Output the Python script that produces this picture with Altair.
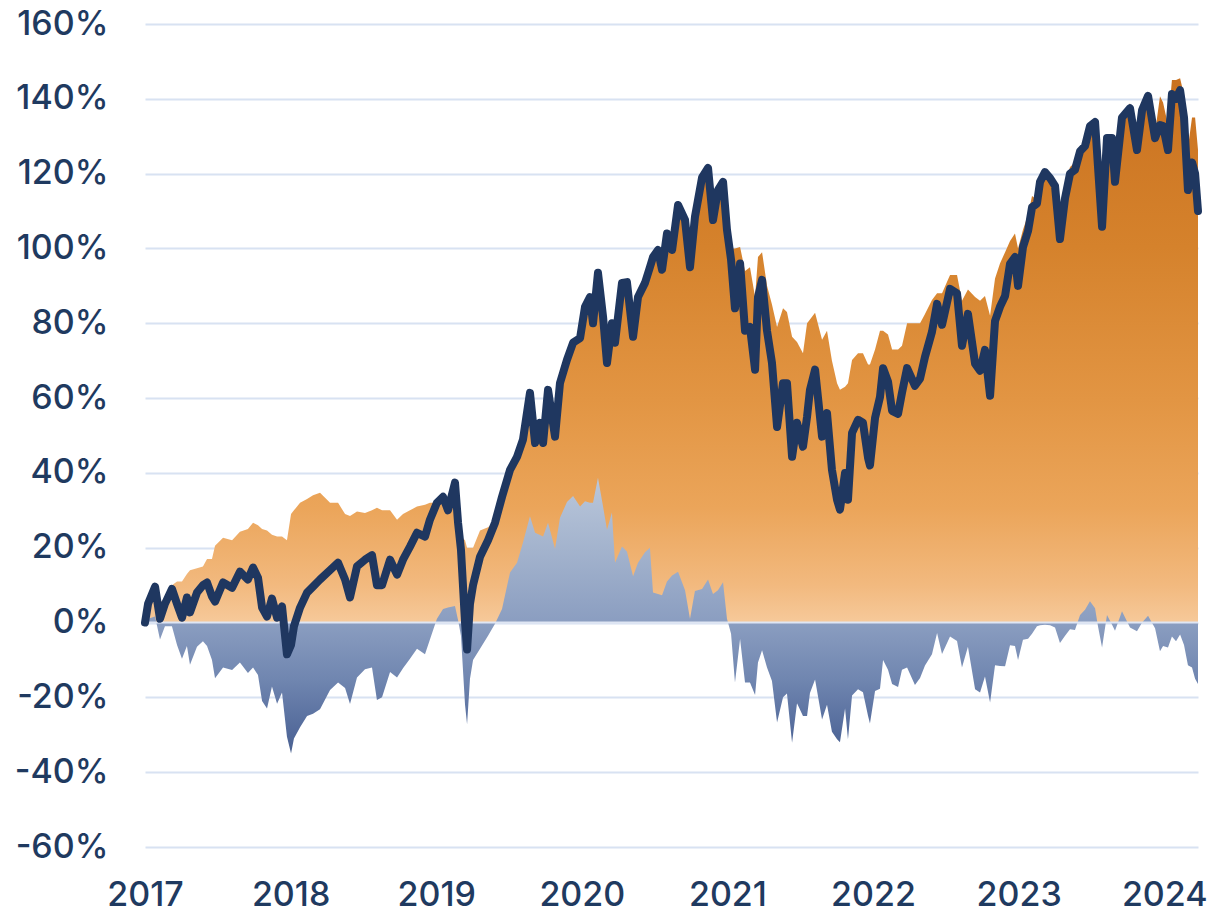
import altair as alt
import pandas as pd

# decimal-year positions of the sampled points
years = [
    2017.000, 2017.021, 2017.069, 2017.103, 2017.137, 2017.185, 2017.220, 2017.254, 2017.288, 2017.309,
    2017.357, 2017.398, 2017.426, 2017.460, 2017.481, 2017.536, 2017.598, 2017.652, 2017.707, 2017.742,
    2017.776, 2017.804, 2017.838, 2017.872, 2017.907, 2017.941, 2017.975,
    2018.003, 2018.023, 2018.065, 2018.113, 2018.154, 2018.202, 2018.271, 2018.326, 2018.374, 2018.408,
    2018.456, 2018.511, 2018.559, 2018.593, 2018.628, 2018.683, 2018.731, 2018.772, 2018.820, 2018.868,
    2018.923, 2018.957,
    2019.005, 2019.047, 2019.081, 2019.129, 2019.150, 2019.170, 2019.198, 2019.212, 2019.232, 2019.253,
    2019.301, 2019.356, 2019.404, 2019.452, 2019.507, 2019.555, 2019.596, 2019.644, 2019.679, 2019.713,
    2019.734, 2019.768, 2019.816, 2019.850, 2019.898, 2019.940, 2019.988,
    2020.022, 2020.056, 2020.077, 2020.111, 2020.146, 2020.173, 2020.207, 2020.228, 2020.276, 2020.310,
    2020.352, 2020.386, 2020.434, 2020.468, 2020.489, 2020.523, 2020.551, 2020.585, 2020.620, 2020.661,
    2020.709, 2020.743, 2020.777, 2020.826, 2020.867, 2020.901, 2020.935, 2020.970, 2020.997,
    2021.025, 2021.052, 2021.087, 2021.121, 2021.155, 2021.190, 2021.210, 2021.238, 2021.272, 2021.306,
    2021.341, 2021.382, 2021.409, 2021.444, 2021.478, 2021.519, 2021.547, 2021.567, 2021.602, 2021.650,
    2021.684, 2021.718, 2021.753, 2021.773, 2021.808, 2021.828, 2021.856, 2021.897, 2021.931, 2021.966,
    2021.979,
    2022.014, 2022.048, 2022.069, 2022.103, 2022.131, 2022.172, 2022.199, 2022.234, 2022.288, 2022.323,
    2022.357, 2022.405, 2022.440, 2022.474, 2022.529, 2022.577, 2022.611, 2022.652, 2022.701, 2022.735,
    2022.769, 2022.804, 2022.838, 2022.872, 2022.907, 2022.941, 2022.975, 2022.996,
    2023.030, 2023.065, 2023.092, 2023.126, 2023.147, 2023.181, 2023.216, 2023.250, 2023.284, 2023.319,
    2023.353, 2023.387, 2023.422, 2023.456, 2023.490, 2023.525, 2023.545, 2023.573, 2023.607, 2023.641,
    2023.662, 2023.710, 2023.765, 2023.813, 2023.848, 2023.889, 2023.937, 2023.971, 2023.992,
    2024.026, 2024.053, 2024.081, 2024.109, 2024.136, 2024.163, 2024.191, 2024.212, 2024.232,
]

# cumulative return of the fund (navy line), %
fund = [
    0, 5, 9.6, 1, 5, 9, 5, 1.3, 6.7, 2.7, 8, 10, 10.7, 7, 5.6, 10.7, 9.3, 13.6, 11.5, 14.7,
    12, 4, 1.6, 6.4, 1.3, 4.3, -8.5,
    -6, -1, 4, 8, 9.6, 11.5, 14, 16, 11.5, 6.7, 15, 16.8, 18, 10, 10, 16.8, 12.8, 16.8, 20.3, 24,
    23, 27.5,
    32, 33.6, 30, 37.4, 26.7, 19.5, 0, -7.2, 5, 10, 17.6, 22, 26.7, 33.6, 40.8, 44.3, 48.9, 61.4,
    48, 53.4, 48, 62.2, 49.7, 64, 70.2, 74.8, 76,
    84.4, 87, 80, 93.5, 81.7, 69.4, 80, 74.8, 90.8, 91, 76.4, 87, 90.8, 95, 97.7, 99.6, 94.3, 104,
    99.6, 111.6, 107.6, 95, 108.4, 119, 121.5, 107.6, 115.6, 117.8, 105,
    97, 84, 96, 78, 79, 67.6, 87, 91.6, 78, 69.4, 52.3, 64, 64, 44.3, 53.4, 47, 55, 62.2, 67.6,
    49.7, 56, 40.8, 32.8, 30.2, 40, 32.8, 50.7, 54.2, 53.4, 44, 42,
    54.7, 60.3, 68, 64.4, 56.6, 55.8, 61.4, 68, 63.3, 65.2, 71, 77.7, 85.2, 79.6, 89.2, 88, 74,
    82.5, 69.2, 67.3, 72.9, 60.6, 80.6, 84.4, 87.3, 95.9, 97.7, 90,
    100.4, 104.7, 111, 112, 117.8, 120.4, 118.8, 116.7, 102.5, 113.5, 120, 121, 126, 127.4, 132.7,
    133.8, 122, 105.8, 129.5, 129.5, 117.8, 135, 137.5, 126.3, 137, 140.8, 129.5, 133, 132.7,
    126.3, 141.3, 140, 142.3, 135, 115.6, 123, 120, 110,
]

# cumulative return of the benchmark, %
bench = [
    0, 4, 8, 5.5, 6, 10, 11, 11, 13, 14, 14.5, 15, 17, 17, 20.5, 22.7, 22, 24.3, 25, 26.7,
    26, 25, 24.6, 23.5, 23, 23, 22,
    29, 30, 32, 33, 34, 34.7, 32, 32, 29, 28.5, 29.7, 29.3, 30, 30.7, 30, 30, 27.5, 29, 30, 31,
    31.5, 32,
    31, 30, 26, 33, 26, 23, 22, 20, 20, 20, 24.6, 25.5, 27, 30, 27.4, 28.3, 27.5, 33,
    24, 30, 25, 35.5, 30, 36, 38, 41, 45,
    52, 55, 48, 54.8, 50.7, 44.6, 50.6, 58.8, 70.5, 72, 64, 71, 72, 75, 89.7, 92, 87, 93,
    87, 98, 99, 94, 100, 110, 110, 100, 107, 107, 104,
    100, 100, 100.4, 94, 95, 87, 97.7, 99, 90, 85, 79, 84, 83, 76.4, 75, 72, 80, 81, 82.8,
    75.6, 78, 70, 64, 62.2, 63, 64, 70.2, 72, 72, 69, 69,
    73, 78, 78, 77, 73, 73, 74, 80, 80, 80, 82.5, 86.2, 88, 88, 92.9, 92.9, 86,
    89, 87, 86, 87.3, 82, 92, 96, 99, 102, 104, 100,
    105, 109, 114, 113, 118.5, 121, 119.5, 118, 108, 117, 121.8, 123, 124, 124, 127,
    130, 123, 112.5, 127.5, 130, 120, 132, 138.8, 128.6, 137, 139, 131, 140.7, 139,
    133, 145, 145, 145.5, 141, 127, 135, 135, 126.4,
]

year_ticks = [2017, 2018, 2019, 2020, 2021, 2022, 2023, 2024]
pct_ticks = [-60, -40, -20, 0, 20, 40, 60, 80, 100, 120, 140, 160]

assert len(years) == len(fund) == len(bench), (len(years), len(fund), len(bench))

df = pd.DataFrame({"year": years, "fund": fund, "bench": bench})
df["top"] = df[["fund", "bench"]].max(axis=1)
df["diff"] = df["fund"] - df["bench"]
df["zero"] = 0.0

x_enc = alt.X(
    "year:Q",
    scale=alt.Scale(domain=[2017, 2024.232], nice=False, zero=False),
    axis=alt.Axis(values=year_ticks, format="d", grid=False, labelPadding=31,
                  labelFlush=False, labelOverlap=False),
    title=None,
)
y_scale = alt.Scale(domain=[-60, 160], nice=False, zero=False)
y_axis = alt.Axis(values=pct_ticks, labelExpr="datum.value + '%'", grid=True,
                  labelPadding=37, labelOverlap=False)

orange_grad = alt.Gradient(
    gradient="linear",
    stops=[
        alt.GradientStop(color="#ca7220", offset=0),
        alt.GradientStop(color="#d5822c", offset=0.31),
        alt.GradientStop(color="#e29543", offset=0.59),
        alt.GradientStop(color="#eba55a", offset=0.79),
        alt.GradientStop(color="#f2b97e", offset=0.93),
        alt.GradientStop(color="#f6c99a", offset=1),
    ],
    x1=0, x2=0, y1=0, y2=1,
)
blue_grad = alt.Gradient(
    gradient="linear",
    stops=[
        alt.GradientStop(color="#bac7db", offset=0),
        alt.GradientStop(color="#a3b3cd", offset=0.26),
        alt.GradientStop(color="#8a9dc0", offset=0.53),
        alt.GradientStop(color="#7086b0", offset=0.73),
        alt.GradientStop(color="#52699a", offset=0.93),
        alt.GradientStop(color="#4a6190", offset=1),
    ],
    x1=0, x2=0, y1=0, y2=1,
)

base = alt.Chart(df)

orange = base.mark_area(color=orange_grad, interpolate="linear").encode(
    x=x_enc,
    y=alt.Y("top:Q", scale=y_scale, axis=y_axis, title=None),
    y2="zero:Q",
)
blue = base.mark_area(color=blue_grad, interpolate="linear").encode(
    x=x_enc,
    y=alt.Y("diff:Q", scale=y_scale, title=None),
    y2="zero:Q",
)
zero_rule = alt.Chart(pd.DataFrame({"z": [0.0]})).mark_rule(
    color="#dfe6f3", strokeWidth=2
).encode(y=alt.Y("z:Q", scale=y_scale, title=None))
line = base.mark_line(
    color="#1f3760", strokeWidth=8, strokeJoin="round", strokeCap="round"
).encode(
    x=x_enc,
    y=alt.Y("fund:Q", scale=y_scale, title=None),
)

chart = (
    alt.layer(orange, blue, zero_rule, line)
    .properties(
        width=1053,
        height=823,
        autosize=alt.AutoSizeParams(type="none"),
        padding={"left": 137, "top": 16, "right": 20, "bottom": 61},
        background="white",
    )
    .configure_axis(
        labelFont="Inter",
        labelFontSize=34,
        labelFontWeight=500,
        labelColor="#1f3a60",
        domain=False,
        ticks=False,
        gridColor="#d8e2f2",
        gridWidth=2,
    )
    .configure_view(stroke=None)
)

chart.save("out.html", embed_options={"renderer": "svg", "actions": False})
